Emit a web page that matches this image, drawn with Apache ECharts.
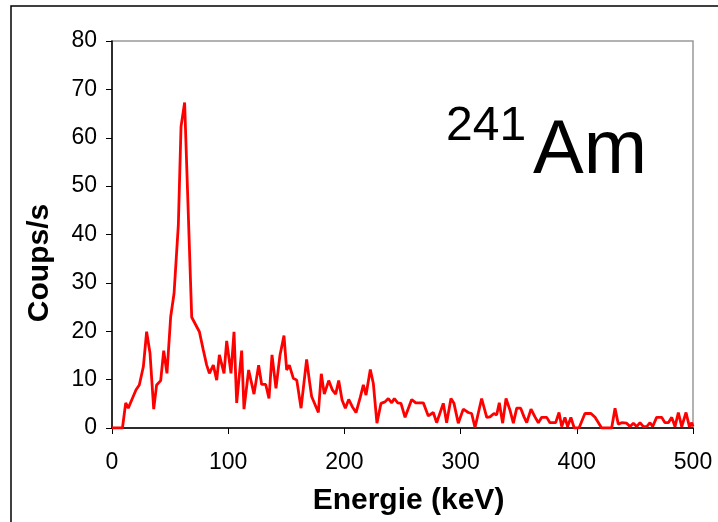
<!DOCTYPE html>
<html>
<head>
    <meta charset="UTF-8">
    <title>Spectre 241Am</title>
    <script src="https://cdn.jsdelivr.net/npm/echarts@6/dist/echarts.min.js"></script>
    <style>
        body { margin: 0; background: #fff; }
    </style>
</head>
<body>
<div id="main" style="width:718px;height:522px;"></div>
<script type="text/javascript">
    var energie = [0, 3, 6, 9, 11.8, 14, 17.5, 20.7, 23.5, 27, 29.8, 32.7, 35.9, 38.4, 41.9, 44.5, 47.3, 50.5,
        53.4, 57.1, 59.4, 62.5, 68.6, 75.2, 78.6, 81.5, 83.8, 87.2, 90.1, 92.4, 96.4, 98.7, 102.4, 105, 107.3,
        111.6, 113.6, 117.6, 122.2, 126.2, 128.8, 132.3, 135.1, 137.7, 141.1, 144.6, 148, 150.3, 152.6, 156,
        159, 162.7, 167.5, 169.8, 171.8, 177.6, 180.1, 182.7, 186.5, 189.6, 192.5, 195.1, 198, 200.8, 203.7,
        206.8, 210, 213.4, 216.3, 218.6, 222.3, 224.9, 228, 231.5, 234.9, 237.8, 240.7, 243, 245.9, 248.7,
        252.2, 257.9, 261.4, 267.9, 272.2, 276.5, 279.4, 285.1, 288, 291.7, 294.3, 298, 302.3, 306.6, 309.5,
        312.4, 318.1, 322.5, 325.3, 328.7, 331, 333.3, 336.2, 339.1, 342.5, 345.4, 348.3, 351.7, 354.6, 356.9,
        360.6, 364, 366.9, 369.8, 374.1, 376.9, 381.8, 384.7, 387, 389.8, 392.1, 394.9, 397.8, 401.9, 407,
        412.2, 415.7, 421.4, 430, 432.9, 435.7, 438.6, 442.9, 445.8, 448.7, 451.5, 454.4, 457.3, 460.2, 463,
        465.3, 468.7, 473, 475.9, 478.8, 481.7, 484.5, 487.4, 490.3, 494, 496.9, 498.9, 500];
    var coups = [0, 0, 0, 0, 5.2, 4.1, 6.1, 7.9, 8.9, 12.7, 19.9, 15.5, 3.9, 8.9, 9.8, 16, 11.3, 23,
        27.8, 42, 62.3, 67.3, 22.9, 19.9, 16.1, 13, 11.3, 13, 9.9, 15.1, 11.3, 18, 11.3, 19.9, 5.2,
        16, 3.9, 12, 7, 13, 9, 9, 6.1, 15.1, 8.2, 15.1, 19.1, 12, 13, 10.3,
        9.9, 4.1, 14.2, 9.9, 6.5, 3.2, 11.2, 7, 9.8, 7.9, 7, 9.8, 5.8, 4.1, 5.9,
        4.4, 3.2, 6.1, 8.9, 6.8, 12.1, 9.2, 1, 5.1, 5.4, 6.1, 5.2, 6.1, 5.2, 5.1,
        2.2, 5.9, 5.2, 5.2, 2.5, 3.2, 1.1, 5.1, 1.1, 6.1, 5.1, 1, 3.9, 3.2, 3,
        0.1, 6.1, 2.2, 2.3, 3, 2.7, 5.2, 1, 6.1, 3.7, 1, 4.1, 4.1, 2.3, 1.1,
        3.9, 2.3, 1.1, 2.2, 2.2, 1.1, 1.1, 3.2, 0.3, 2.2, 0.3, 2.2, 0, 0, 3,
        3, 2.2, 0, 0, 4.1, 0.8, 1.1, 1, 0.3, 1, 0.3, 1.1, 0.3, 0.3, 1.1,
        0.3, 2.2, 2.2, 1.1, 1.1, 2.2, 0.3, 3.2, 0.3, 3.2, 0.3, 1.1, 0.3];

    var points = [];
    for (var i = 0; i < energie.length; i++) {
        points.push([energie[i], coups[i]]);
    }

    var police = '"Liberation Sans", Arial, sans-serif';

    var myChart = echarts.init(document.getElementById('main'));
    myChart.setOption({
        animation: false,
        grid: {
            left: 112,
            top: 41,
            right: 25,
            bottom: 94,
            show: true,
            borderColor: '#999',
            borderWidth: 1.5
        },
        graphic: [
            {
                type: 'rect',
                shape: { x: 11, y: 6, width: 800, height: 600 },
                style: { fill: 'none', stroke: '#000', lineWidth: 1.5 },
                silent: true
            },
            {
                type: 'text',
                x: 446, y: 103,
                style: { text: '241', font: '48px ' + police, fill: '#000' }
            },
            {
                type: 'text',
                x: 533, y: 114,
                style: { text: 'Am', font: '76px ' + police, fill: '#000' }
            },
            {
                // titre de l'axe vertical, un peu sous le milieu comme dans l'original
                type: 'text',
                x: 40, y: 263,
                rotation: Math.PI / 2,
                style: {
                    text: 'Coups/s', font: 'bold 30px ' + police, fill: '#000',
                    align: 'center', verticalAlign: 'middle'
                }
            }
        ],
        xAxis: {
            type: 'value',
            min: 0,
            max: 500,
            interval: 100,
            name: 'Energie (keV)',
            nameLocation: 'middle',
            nameGap: 58,
            nameTextStyle: { color: '#000', fontSize: 30, fontWeight: 'bold', fontFamily: police, padding: [0, 0, 0, 12] },
            axisLine: { lineStyle: { color: '#000', width: 1.5 } },
            axisTick: { show: true, length: 6, lineStyle: { color: '#000' } },
            axisLabel: { color: '#000', fontSize: 23, margin: 23, fontFamily: police },
            splitLine: { show: false }
        },
        yAxis: {
            type: 'value',
            min: 0,
            max: 80,
            interval: 10,
            axisLine: { show: true, lineStyle: { color: '#000', width: 1.5 } },
            axisTick: { show: true, length: 6, lineStyle: { color: '#000' } },
            axisLabel: { color: '#000', fontSize: 23, margin: 15, fontFamily: police },
            splitLine: { show: false }
        },
        series: [{
            type: 'line',
            data: points,
            showSymbol: false,
            lineStyle: { color: '#ff0000', width: 2.8 },
            itemStyle: { color: '#ff0000' }
        }]
    });
</script>
</body>
</html>
